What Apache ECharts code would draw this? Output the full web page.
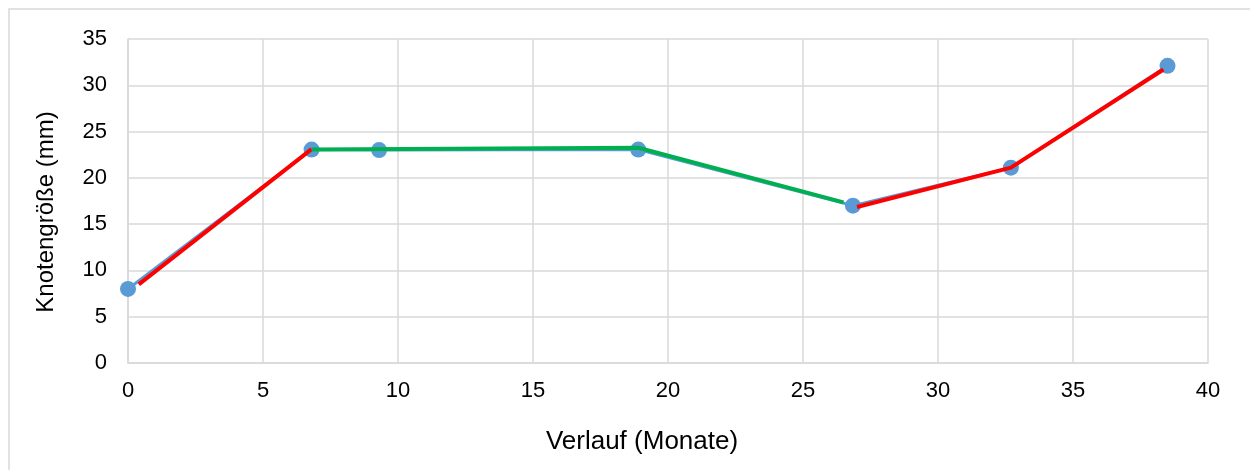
<!DOCTYPE html>
<html><head><meta charset="utf-8">
<script src="https://cdn.jsdelivr.net/npm/echarts@6/dist/echarts.min.js"></script>
<style>html,body{margin:0;padding:0;background:#fff}#c{width:1250px;height:470px}</style>
</head><body><div id="c"></div>
<script>
// Data (months, nodule size mm)
const months = [0, 6.8, 9.3, 18.9, 26.85, 32.7, 38.5];
const sizes = [8, 23.05, 23, 23.05, 17, 21.1, 32.1];
// red trend segments (null = break)
const redX = [0.4, 6.8, null, 27.0, 32.7, 38.35];
const redY = [8.5, 23.1, null, 16.85, 21.1, 31.7];
// green trend segment
const greenX = [6.8, 18.9, 26.5];
const greenY = [23.05, 23.25, 17.35];
const xTicks = {min: 0, max: 40, step: 5};
const yTicks = {min: 0, max: 35, step: 5};
const xTitle = 'Verlauf (Monate)';
const yTitle = 'Knotengröße (mm)';

const pair = (xs, ys) => xs.map((x, i) => x === null ? [null, null] : [x, ys[i]]);
const font = '"Liberation Sans", Arial, sans-serif';
const chart = echarts.init(document.getElementById('c'), null, {renderer: 'canvas'});
chart.setOption({
  animation: false,
  backgroundColor: '#fff',
  grid: {left: 128, right: 42, top: 39, bottom: 107, containLabel: false},
  xAxis: {
    type: 'value', min: xTicks.min, max: xTicks.max, interval: xTicks.step,
    axisLine: {show: true, lineStyle: {color: '#d9d9d9', width: 1.5}},
    axisTick: {show: false},
    axisLabel: {color: '#000', fontSize: 22, fontFamily: font, margin: 17},
    splitLine: {show: true, lineStyle: {color: '#d9d9d9', width: 1.5}}
  },
  yAxis: {
    type: 'value', min: yTicks.min, max: yTicks.max, interval: yTicks.step,
    axisLine: {show: true, lineStyle: {color: '#d9d9d9', width: 1.5}},
    axisTick: {show: false},
    axisLabel: {color: '#000', fontSize: 22, fontFamily: font, margin: 21},
    splitLine: {show: true, lineStyle: {color: '#d9d9d9', width: 1.5}}
  },
  graphic: [
    {type: 'rect', silent: true, z: -10, shape: {x: 9, y: 9, width: 1400, height: 600},
     style: {fill: 'none', stroke: '#d9d9d9', lineWidth: 1.5}},
    {type: 'text', x: 642, y: 442, style: {text: xTitle, fontSize: 26, fontFamily: font, fill: '#000', textAlign: 'center', textVerticalAlign: 'middle'}},
    {type: 'text', x: 46, y: 212, rotation: Math.PI / 2, style: {text: yTitle, fontSize: 24, fontFamily: font, fill: '#000', textAlign: 'center', textVerticalAlign: 'middle'}}
  ],
  series: [
    {type: 'line', data: pair(months, sizes), symbol: 'circle', symbolSize: 16,
     lineStyle: {color: '#5b9bd5', width: 3}, itemStyle: {color: '#5b9bd5'}, z: 2},
    {type: 'line', data: pair(redX, redY), symbol: 'none', connectNulls: false,
     lineStyle: {color: '#ff0000', width: 4}, z: 5},
    {type: 'line', data: pair(greenX, greenY), symbol: 'none',
     lineStyle: {color: '#00b050', width: 4}, z: 5}
  ]
});
</script></body></html>
